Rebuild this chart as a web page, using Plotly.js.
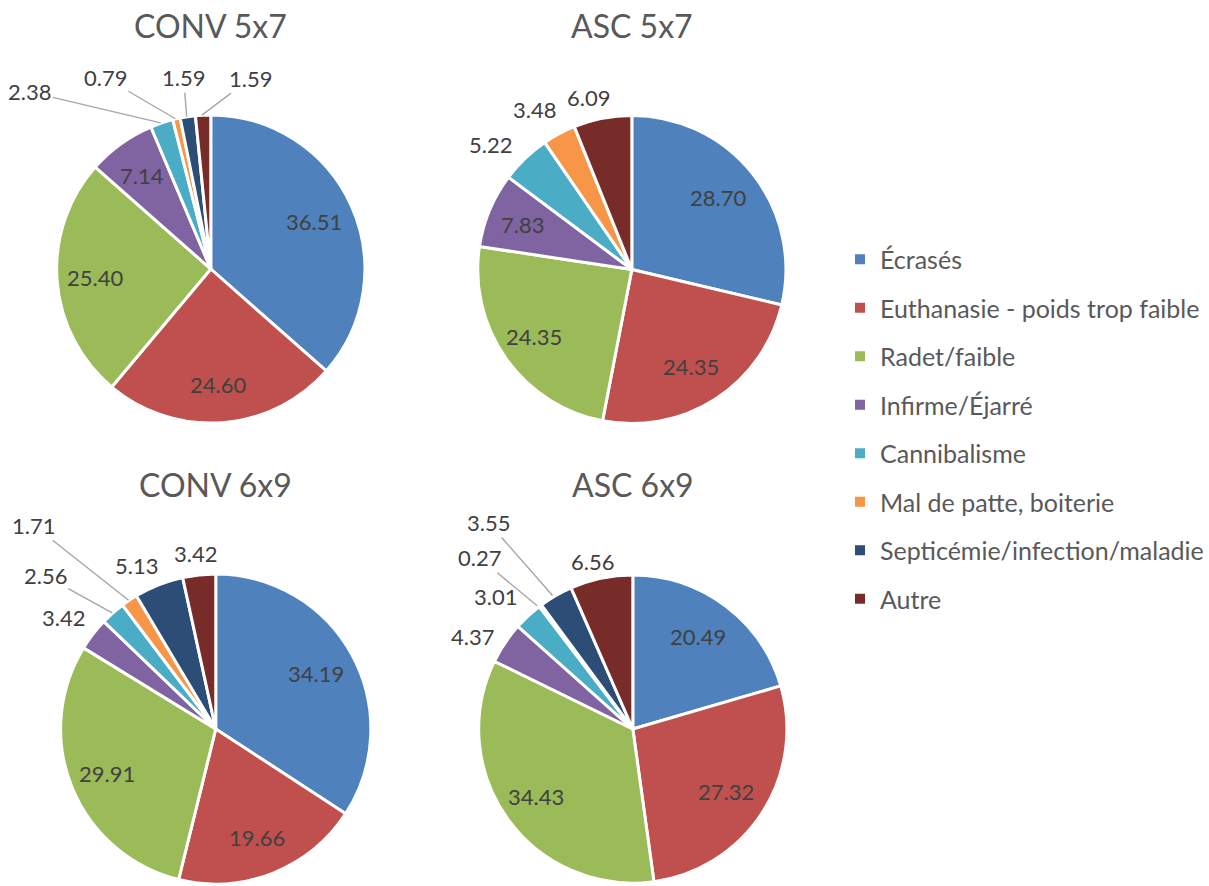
<!DOCTYPE html>
<html><head><meta charset="utf-8">
<script src="https://cdn.plot.ly/plotly-3.0.1.min.js"></script>
<style>html,body{margin:0;padding:0;background:#fff}#chart{width:1209px;height:886px}</style>
</head><body><div id="chart"></div>
<script>
// ---- data ----
const categories = ['Écrasés','Euthanasie - poids trop faible','Radet/faible','Infirme/Éjarré','Cannibalisme','Mal de patte, boiterie','Septicémie/infection/maladie','Autre'];
const pieTitles = ['CONV 5x7','ASC 5x7','CONV 6x9','ASC 6x9'];
const conv5x7 = [36.51,24.60,25.40,7.14,2.38,0.79,1.59,1.59];
const asc5x7  = [28.70,24.35,24.35,7.83,5.22,3.48,0,6.09];
const conv6x9 = [34.19,19.66,29.91,3.42,2.56,1.71,5.13,3.42];
const asc6x9  = [20.49,27.32,34.43,4.37,3.01,0.27,3.55,6.56];
const series = [conv5x7, asc5x7, conv6x9, asc6x9];

// ---- style / layout config ----
const W = 1209, H = 886;
const colors = ['#4F81BD','#C0504D','#9BBB59','#8064A2','#4BACC6','#F79646','#2C4D75','#772C2A'];
const FONT = "Lato, 'Open Sans', sans-serif";
const LABEL_FONT = {family:FONT, size:22, color:'#404040'};
const INSIDE_R = 0.75; // inside labels placed at this fraction of the radius
const pieBoxes = [
  {cx:212,   cy:269,   r:155},
  {cx:635.5, cy:269.5, r:155},
  {cx:217,   cy:729,   r:156},
  {cx:636.5, cy:729,   r:155}
];
// outside label offsets (px from slice edge midpoint) and whether a leader line is drawn
const outsideLabels = [
  {4:[-131,-31,true], 5:[-70,-41,true], 6:[-3,-39,true], 7:[49,-37,true]},
  {4:[-32,-14,false], 5:[-21,-24,false], 7:[-11,-21,false]},
  {3:[-29,-17,false], 4:[-67,-37,true], 5:[-95,-75,true], 6:[-21,-19,false], 7:[-2,-21,false]},
  {3:[-30,-6,false], 4:[-30,-19,false], 5:[-58,-48,true], 6:[-64,-73,true], 7:[-5,-17,false]}
];

const traces = [];
series.forEach((vals, k) => {
  const b = pieBoxes[k];
  traces.push({
    type:'pie', name: pieTitles[k],
    values: vals, labels: categories,
    sort:false, direction:'clockwise', rotation:0,
    domain:{x:[(b.cx-b.r)/W, (b.cx+b.r)/W], y:[1-(b.cy+b.r)/H, 1-(b.cy-b.r)/H]},
    marker:{colors: colors, line:{color:'#ffffff', width:3}},
    text: vals.map(v => v.toFixed(2)),
    textinfo:'none',
    showlegend:false, hoverinfo:'label+value'
  });
});
// legend entries
categories.forEach((c,i) => {
  traces.push({type:'scatter', mode:'markers', x:[null], y:[null], name:c, legendgroup:'g'+i,
    marker:{symbol:'square', size:10, color:colors[i]}, hoverinfo:'skip', showlegend:true});
});

const annotations = pieTitles.map((t,k) => ({
  xref:'paper', yref:'paper', x: pieBoxes[k].cx/W, y: 1-(pieBoxes[k].cy - pieBoxes[k].r - 89)/H,
  xanchor:'center', yanchor:'middle', showarrow:false, text:t,
  font:{family:FONT, size:32, color:'#595959'}
}));

const layout = {
  width:W, height:H, margin:{l:0,r:0,t:0,b:0},
  paper_bgcolor:'#ffffff', plot_bgcolor:'#ffffff',
  xaxis:{visible:false}, yaxis:{visible:false},
  showlegend:true,
  legend:{x:845/W, xanchor:'left', y:1-429/H, yanchor:'middle',
    font:{family:FONT, size:25, color:'#595959'}, tracegroupgap:13, itemwidth:30, bgcolor:'rgba(0,0,0,0)'},
  annotations: annotations
};

Plotly.newPlot('chart', traces, layout, {staticPlot:true}).then(gd => {
  const ann = annotations.slice();
  series.forEach((vals, k) => {
    const cd = gd.calcdata[k];
    const cd0 = cd[0];
    cd.forEach(pt => {
      if (!(pt.v > 0)) return;
      const label = vals[pt.i].toFixed(2);
      const spec = outsideLabels[k][pt.i];
      const ex = cd0.cx + pt.pxmid[0], ey = cd0.cy + pt.pxmid[1];
      if (!spec) {
        const ix = cd0.cx + INSIDE_R * pt.pxmid[0], iy = cd0.cy + INSIDE_R * pt.pxmid[1];
        ann.push({xref:'paper', yref:'paper', x: ix/W, y: 1-iy/H,
          xanchor:'center', yanchor:'middle', showarrow:false, text:label, font:LABEL_FONT});
      } else if (spec[2]) {
        ann.push({xref:'paper', yref:'paper', x: ex/W, y: 1-ey/H, ax: spec[0], ay: spec[1],
          showarrow:true, arrowhead:0, arrowwidth:1.4, arrowcolor:'#a6a6a6', standoff:0,
          text:label, font:LABEL_FONT});
      } else {
        ann.push({xref:'paper', yref:'paper', x:(ex+spec[0])/W, y:1-(ey+spec[1])/H,
          xanchor:'center', yanchor:'middle', showarrow:false, text:label, font:LABEL_FONT});
      }
    });
  });
  return Plotly.relayout(gd, {annotations: ann});
});
</script>
</body></html>
